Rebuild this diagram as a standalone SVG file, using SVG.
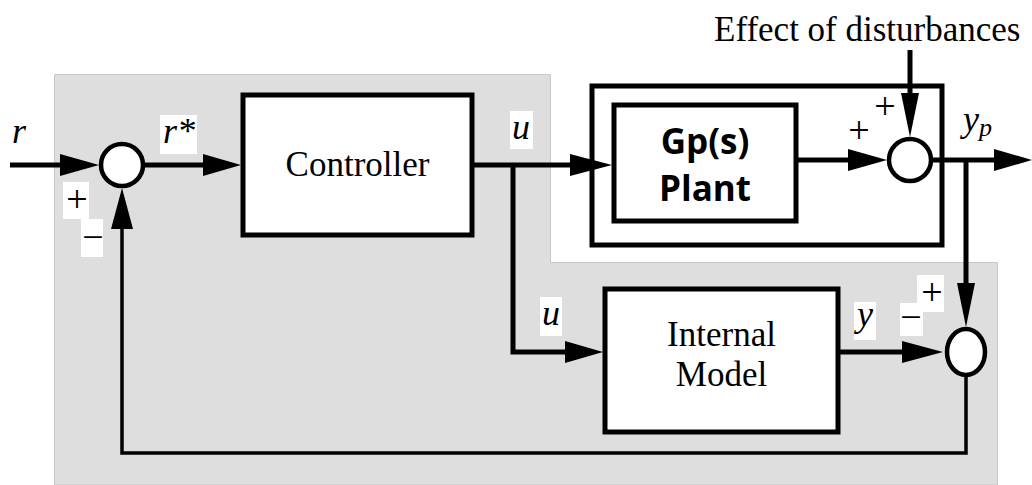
<svg xmlns="http://www.w3.org/2000/svg" width="1032" height="485" viewBox="0 0 1032 485">
<style>
.bg{fill:#dedede;stroke:#c8c8c8;stroke-width:1}
.box{fill:#fff;stroke:#000;stroke-width:5}
.sum{fill:#fff;stroke:#000;stroke-width:4.5}
.w{stroke:#000;stroke-width:5;fill:none}
.t{stroke:#000;stroke-width:3.5;fill:none}
.ah{fill:#000;stroke:none}
.lbl{fill:#fff}
.serif{font-family:"Liberation Serif","Times New Roman",serif;font-size:35px;fill:#000}
.it{font-family:"Liberation Serif","Times New Roman",serif;font-style:italic;font-size:36px;fill:#000}
.sans{font-family:"Open Sans","Liberation Sans",sans-serif;font-weight:bold;font-size:35px;fill:#000}
.sign{font-family:"Liberation Serif","Times New Roman",serif;font-size:38px;fill:#000}
</style>
<g id="background">
<path class="bg" d="M54.5,74.5 H550.5 V262.5 H997.5 V485 H54.5 Z"/>
</g>
<g id="plant-system">
<rect class="box" x="592" y="86" width="350" height="159"/>
</g>
<g id="connectors">
<path class="w" d="M10,165 H80"/>
<polygon class="ah" points="60,154 99,165 60,176"/>
<path class="w" d="M143,165 H210"/>
<polygon class="ah" points="203,154 241,165 203,176"/>
<path class="w" d="M472,165 H580"/>
<polygon class="ah" points="570,154 612,165 570,176"/>
<path class="w" d="M513,165 V352 H575"/>
<polygon class="ah" points="565,341 603,352 565,363"/>
<path class="w" d="M796,160 H855"/>
<polygon class="ah" points="848,149 887,160 848,171"/>
<path class="w" d="M910,50 V100"/>
<polygon class="ah" points="901,93 910,137 919,93"/>
<path class="w" d="M933,160 H1000"/>
<polygon class="ah" points="994,149 1032,160 994,171"/>
<path class="w" d="M966,160 V290"/>
<polygon class="ah" points="957,283 966,327 975,283"/>
<path class="w" d="M838,352 H910"/>
<polygon class="ah" points="902,341 943,352 902,363"/>
<path class="t" d="M966,375 V453 H122 V225"/>
<polygon class="ah" points="111,229 122,188 133,229"/>
</g>
<g id="sum1">
<circle class="sum" cx="122" cy="165" r="21"/>
</g>
<g id="controller">
<rect class="box" x="243" y="95" width="229" height="140"/>
<text class="serif" x="357.5" y="176" text-anchor="middle">Controller</text>
</g>
<g id="plant">
<rect class="box" x="614" y="105" width="182" height="116"/>
<text class="sans" x="705" y="154" text-anchor="middle">Gp(s)</text>
<text class="sans" x="705" y="201" text-anchor="middle">Plant</text>
</g>
<g id="sum2">
<circle class="sum" cx="910" cy="160" r="21"/>
</g>
<g id="internal-model">
<rect class="box" x="605" y="289" width="233" height="143"/>
<text class="serif" x="721.5" y="346" text-anchor="middle">Internal</text>
<text class="serif" x="721.5" y="386" text-anchor="middle">Model</text>
</g>
<g id="sum3">
<ellipse class="sum" cx="966" cy="352" rx="19" ry="23"/>
</g>
<g id="labels">
<text class="it" x="12" y="143">r</text>
<rect class="lbl" x="160" y="115" width="37" height="39"/>
<text class="it" x="163" y="143">r*</text>
<rect class="lbl" x="510" y="111" width="23" height="38"/>
<text class="it" x="512" y="139">u</text>
<rect class="lbl" x="540" y="297" width="22" height="39"/>
<text class="it" x="542" y="325">u</text>
<rect class="lbl" x="854" y="302" width="22" height="38"/>
<text class="it" x="857" y="326">y</text>
<text class="it" x="963" y="131">y<tspan font-size="26" dy="5">p</tspan></text>
<rect class="lbl" x="63" y="182" width="26" height="37"/>
<text class="sign" x="77" y="212" text-anchor="middle">+</text>
<rect class="lbl" x="81" y="219" width="22" height="38"/>
<text class="sign" x="93" y="250" text-anchor="middle">−</text>
<text class="sign" x="859" y="143" text-anchor="middle">+</text>
<text class="sign" x="885" y="119" text-anchor="middle">+</text>
<rect class="lbl" x="917" y="275" width="27" height="37"/>
<text class="sign" x="932" y="305" text-anchor="middle">+</text>
<rect class="lbl" x="900" y="303" width="23" height="33"/>
<text class="sign" x="911" y="330" text-anchor="middle">−</text>
<text class="serif" x="714" y="41">Effect of disturbances</text>
</g>
</svg>
